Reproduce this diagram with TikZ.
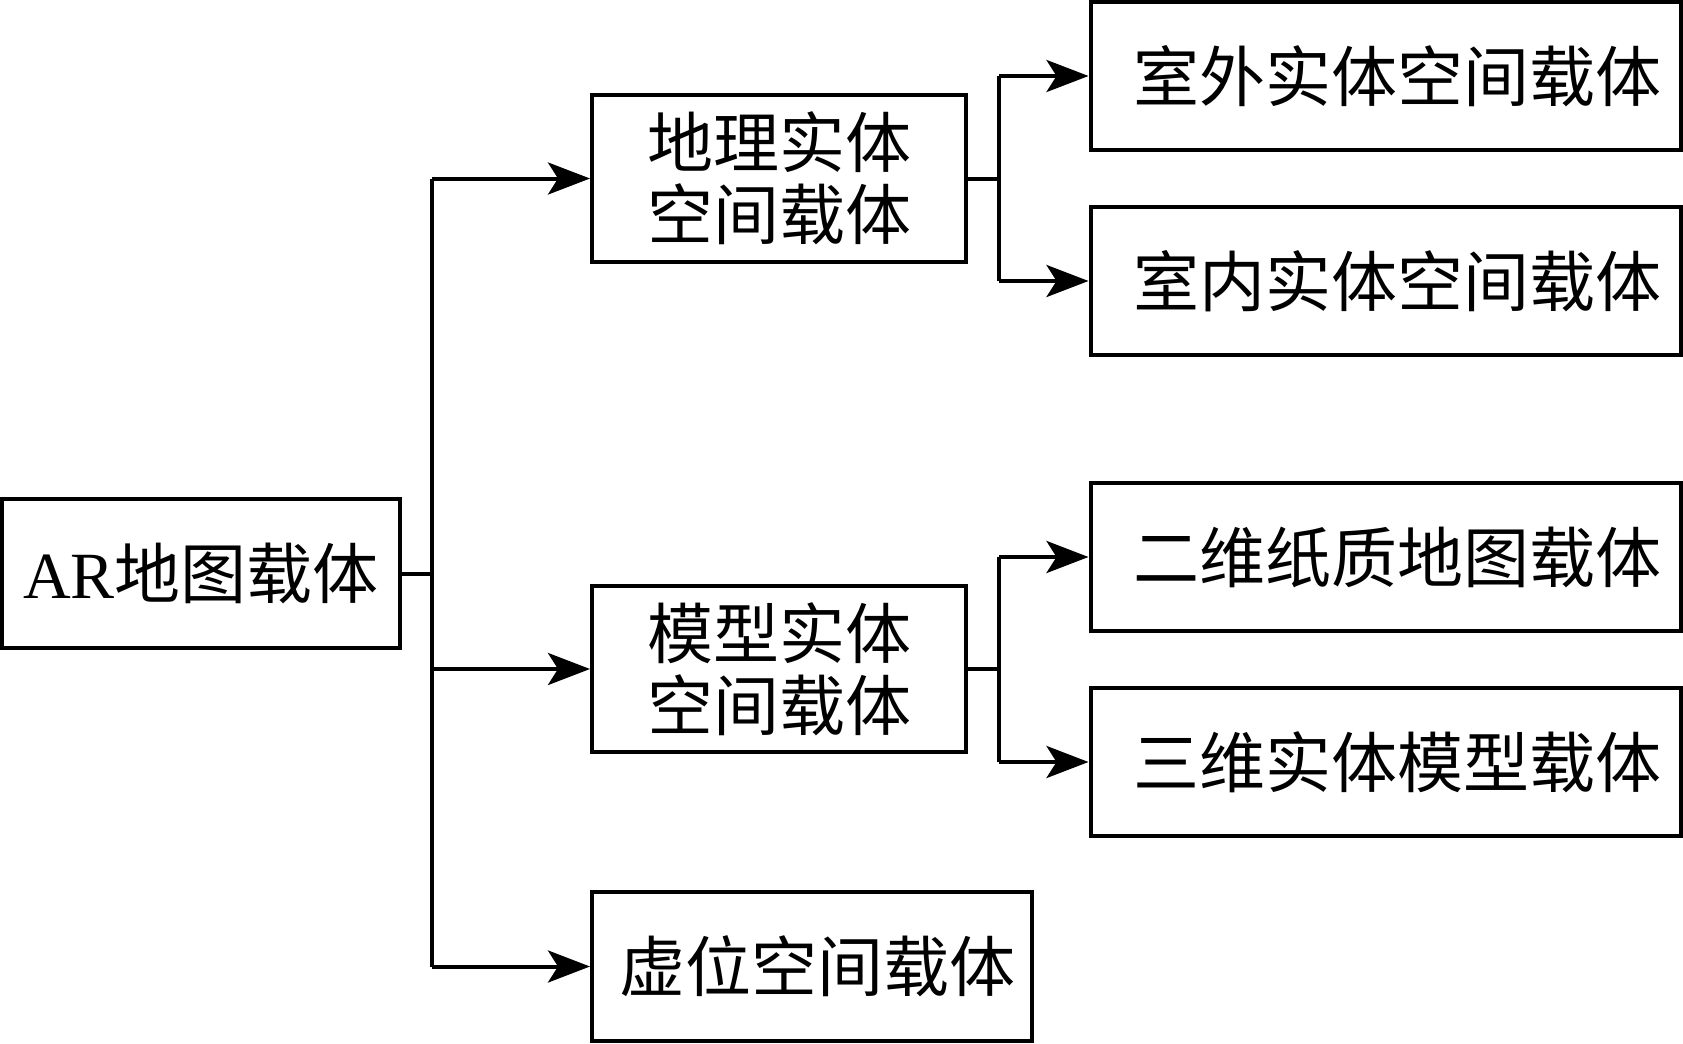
\documentclass[tikz,border=0pt]{standalone}
\usepackage{fontspec}
\setmainfont{Liberation Serif}
\newfontfamily\cjk{Noto Sans CJK SC}
\usetikzlibrary{arrows.meta}
\tikzset{
  box/.style={draw=black, line width=2pt, rectangle, inner sep=0pt, align=center,
    font=\cjk\fontsize{33pt}{36pt}\selectfont},
  conn/.style={line width=2pt, draw=black},
  arr/.style={conn, -{Stealth[length=21pt, width=16pt, inset=5pt]}}
}
\begin{document}
\begin{tikzpicture}[x=0.5pt, y=-0.5pt]
\useasboundingbox (0,0) rectangle (1683,1044);
% boxes
\node[box, minimum width=199pt, minimum height=74.5pt] (ar) at (201,573.5)
  {{\rmfamily AR}地图载体};
\node[box, minimum width=187pt, minimum height=83.5pt] (geo) at (779,178.5)
  {地理实体\\空间载体};
\node[box, minimum width=187pt, minimum height=83pt] (model) at (779,669)
  {模型实体\\空间载体};
\node[box, minimum width=220pt, minimum height=74.5pt] (virt) at (812,966.5)
  {\hspace*{5pt}虚位空间载体};
\node[box, minimum width=295pt, minimum height=74pt] (r1) at (1385.5,76)
  {\hspace*{12pt}室外实体空间载体};
\node[box, minimum width=295pt, minimum height=74pt] (r2) at (1385.5,281)
  {\hspace*{12pt}室内实体空间载体};
\node[box, minimum width=295pt, minimum height=74pt] (r3) at (1385.5,557)
  {\hspace*{12pt}二维纸质地图载体};
\node[box, minimum width=295pt, minimum height=74pt] (r4) at (1385.5,762)
  {\hspace*{12pt}三维实体模型载体};
% junction coordinates
\coordinate (trunk) at (432,573.5);
\coordinate (jg) at (999,178.5);
\coordinate (jm) at (999,669);
% trunk connectors
\draw[conn] (ar.east) -- (trunk);
\draw[conn] (trunk |- geo.west) -- (trunk |- virt.west);
\draw[arr] (trunk |- geo.west) -- (geo.west);
\draw[arr] (trunk |- model.west) -- (model.west);
\draw[arr] (trunk |- virt.west) -- (virt.west);
% geo branches
\draw[conn] (geo.east) -- (jg);
\draw[conn] (jg |- r1.west) -- (jg |- r2.west);
\draw[arr] (jg |- r1.west) -- (r1.west);
\draw[arr] (jg |- r2.west) -- (r2.west);
% model branches
\draw[conn] (model.east) -- (jm);
\draw[conn] (jm |- r3.west) -- (jm |- r4.west);
\draw[arr] (jm |- r3.west) -- (r3.west);
\draw[arr] (jm |- r4.west) -- (r4.west);
\end{tikzpicture}
\end{document}
